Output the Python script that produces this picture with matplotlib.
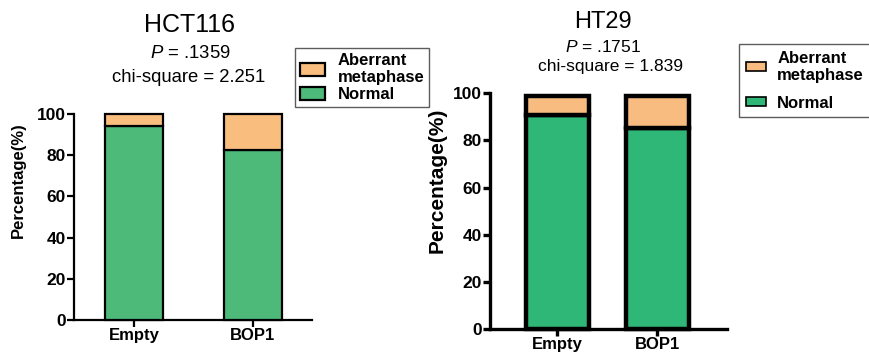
import numpy as np
import matplotlib
matplotlib.use("Agg")
import matplotlib.pyplot as plt
from matplotlib.patches import Patch

plt.rcParams['font.family'] = ['Liberation Sans', 'DejaVu Sans']
plt.rcParams['mathtext.fontset'] = 'custom'
plt.rcParams['mathtext.it'] = 'Liberation Sans:italic'
plt.rcParams['mathtext.rm'] = 'Liberation Sans'

groups = ["Empty", "BOP1"]
series_names = ["Aberrant\nmetaphase", "Normal"]

# HCT116 panel
hct_normal = [94.3, 82.7]
hct_aberrant = [5.7, 17.3]
hct_title = "HCT116"
hct_p = ".1359"
hct_chi = "2.251"

# HT29 panel
ht_normal = [91.0, 85.4]
ht_aberrant = [8.0, 13.6]
ht_title = "HT29"
ht_p = ".1751"
ht_chi = "1.839"

W, H = 869, 360
fig = plt.figure(figsize=(W / 100, H / 100), dpi=100)


def fx(px):
    return px / W


def fy(py):
    return 1 - py / H


def draw_panel(rect, normal, aberrant, colors, lw, spine_w, xlim, width, fs_tick, fs_xtick, fs_ylab, ylab_x):
    ax = fig.add_axes(rect)
    x = np.arange(len(groups))
    ax.bar(x, normal, width, color=colors[1], edgecolor='black', linewidth=lw, clip_on=False, zorder=3)
    ax.bar(x, aberrant, width, bottom=normal, color=colors[0], edgecolor='black', linewidth=lw,
           clip_on=False, zorder=3)
    ax.set_xlim(*xlim)
    ax.set_ylim(0, 100)
    ax.set_yticks([0, 20, 40, 60, 80, 100])
    ax.set_xticks(x)
    ax.set_xticklabels(groups, fontweight='bold', fontsize=fs_xtick)
    for lab in ax.get_yticklabels():
        lab.set_fontweight('bold')
        lab.set_fontsize(fs_tick)
    ax.spines['top'].set_visible(False)
    ax.spines['right'].set_visible(False)
    ax.spines['left'].set_linewidth(spine_w)
    ax.spines['bottom'].set_linewidth(spine_w)
    ax.tick_params(width=spine_w, length=5, pad=1)
    ax.set_ylabel("Percentage(%)", fontweight='bold', fontsize=fs_ylab)
    # x here is the right edge of the rotated label
    ax.yaxis.set_label_coords(ylab_x, 0.5, transform=fig.transFigure)
    return ax


# left panel
axl = draw_panel([fx(74), fy(320), fx(312 - 74), (320 - 114) / H],
                 hct_normal, hct_aberrant, ['#F9BE7E', '#4DBA7A'], 1.6, 1.6,
                 (-0.504, 1.496), 0.48, 12.5, 12, 12, fx(26))
fig.text(fx(190), fy(25), hct_title, ha='center', va='center', fontsize=18)
fig.text(fx(190), fy(54), "$P$ = " + hct_p, ha='center', va='center', fontsize=13.3)
fig.text(fx(189), fy(78), "chi-square = " + hct_chi, ha='center', va='center', fontsize=13.3)
handles = [Patch(facecolor='#F9BE7E', edgecolor='black', linewidth=1.6),
           Patch(facecolor='#4DBA7A', edgecolor='black', linewidth=1.6)]
legl = fig.legend(handles, series_names, loc='upper left', bbox_to_anchor=(fx(295), fy(48)),
                  frameon=True, fancybox=False, edgecolor='#333333',
                  prop={'weight': 'bold', 'size': 12}, borderpad=0.3, labelspacing=0.1,
                  handlelength=1.5, handleheight=0.8, handletextpad=0.75, borderaxespad=0)
legl.get_frame().set_linewidth(1.0)

# right panel
axr = draw_panel([fx(490), fy(329), fx(727 - 490), (329 - 93.3) / H],
                 ht_normal, ht_aberrant, ['#F9BC80', '#2EB777'], 3.2, 2.4,
                 (-0.67, 1.70), 0.63, 12.5, 12, 15, fx(447))
fig.text(fx(603), fy(22), ht_title, ha='center', va='center', fontsize=17)
fig.text(fx(603), fy(47), "$P$ = " + ht_p, ha='center', va='center', fontsize=12.5)
fig.text(fx(610), fy(67), "chi-square = " + ht_chi, ha='center', va='center', fontsize=12.5)
handles_r = [Patch(facecolor='#F9BC80', edgecolor='black', linewidth=1.2),
             Patch(facecolor='#2EB777', edgecolor='black', linewidth=1.2)]
legr = fig.legend(handles_r, series_names, loc='upper left', bbox_to_anchor=(fx(739), fy(44)),
                  frameon=True, fancybox=False, edgecolor='#333333',
                  prop={'weight': 'bold', 'size': 12}, borderpad=0.4, labelspacing=0.75,
                  handlelength=1.2, handleheight=0.45, handletextpad=0.7, borderaxespad=0)
legr.get_frame().set_linewidth(1.0)

fig.savefig("out.png", dpi=100)
